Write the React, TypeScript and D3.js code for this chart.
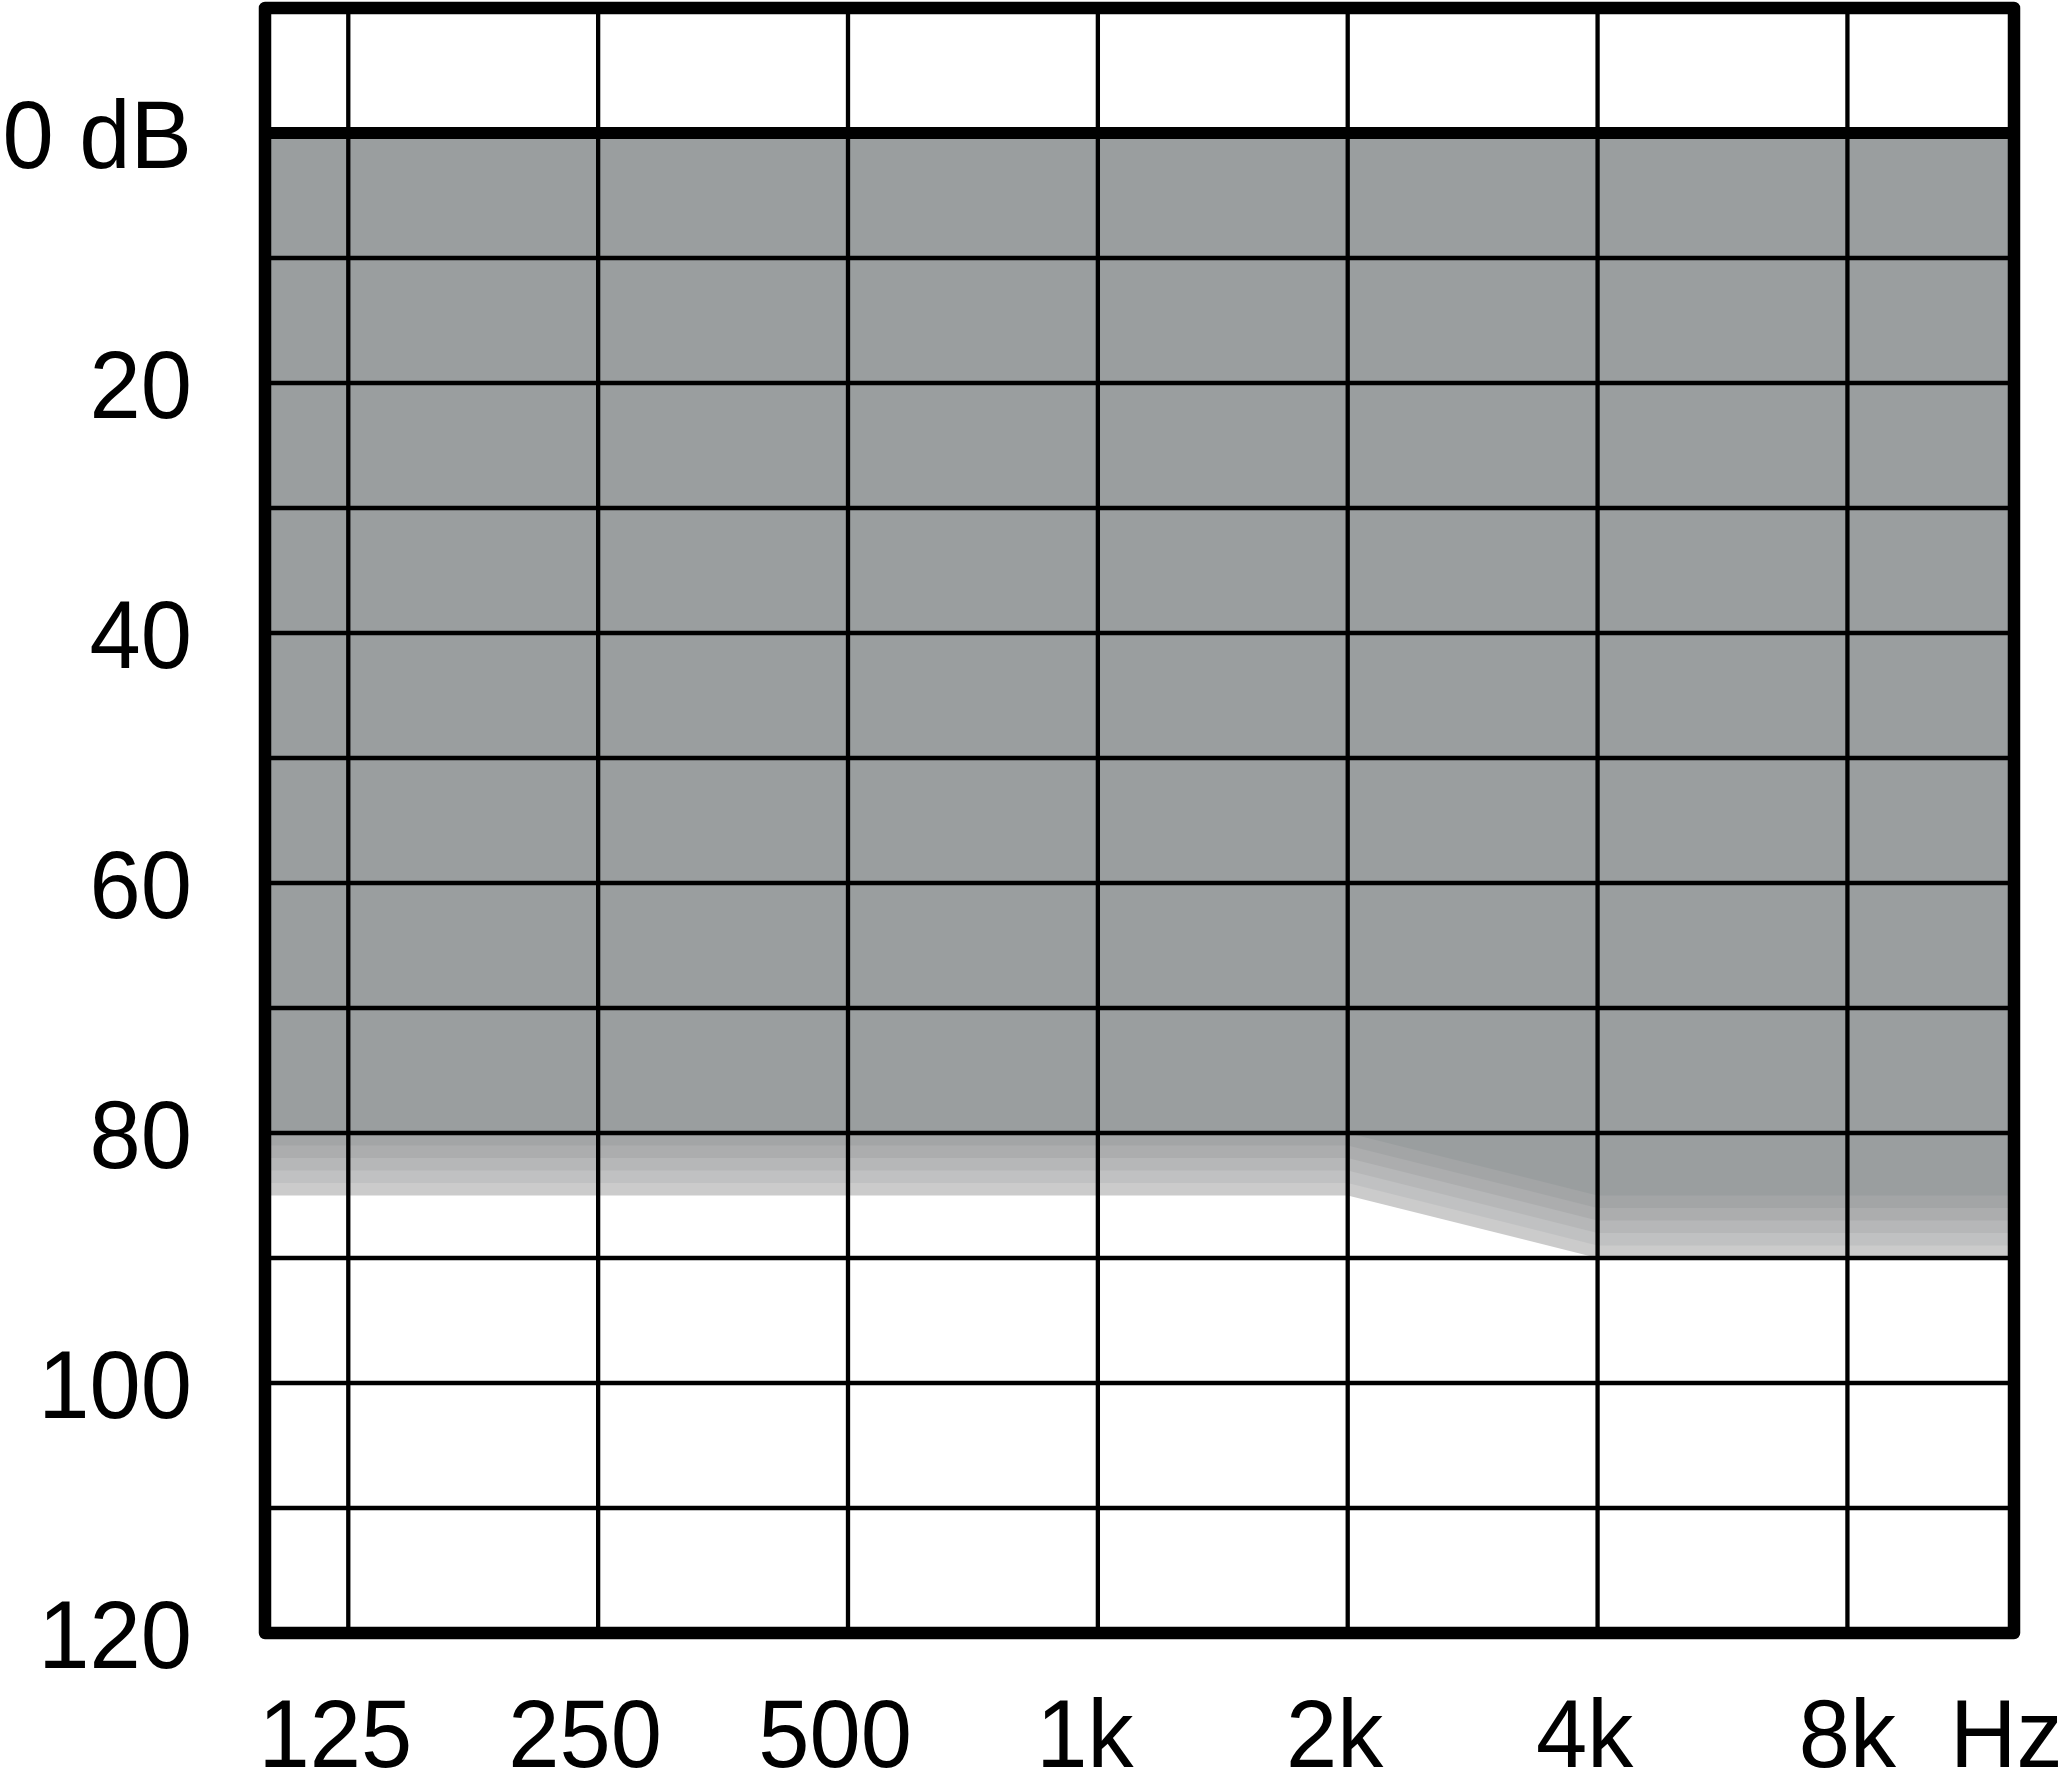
import React from "react";
import * as d3 from "d3";

const frequencies = [125, 250, 500, 1000, 2000, 4000, 8000];
const freqLabels = ["125", "250", "500", "1k", "2k", "4k", "8k"];
const thresholdDb = [80, 80, 80, 80, 80, 85, 85];
const dbTicks = [0, 20, 40, 60, 80, 100, 120];
const dbLabels = ["0 dB", "20", "40", "60", "80", "100", "120"];
const gridDb = [10, 20, 30, 40, 50, 60, 70, 80, 90, 100, 110];
const fadeColors = ["#a3a5a6", "#acadae", "#b6b7b8", "#c0c1c2", "#cbcbcb"];
const solidColor = "#9a9e9f";

const W = 2063;
const H = 1770;
const FONT = "'Liberation Sans', Arial, sans-serif";
const FS = 97;
const SX = 0.95;

export default function App() {
  const fMin = 125 / Math.pow(2, 1 / 3);
  const fMax = 8000 * Math.pow(2, 2 / 3);
  const x = d3.scaleLog().domain([fMin, fMax]).range([265, 2014]);
  const y = d3.scaleLinear().domain([-10, 120]).range([8, 1633]);

  const pts = [
    { f: fMin, t: thresholdDb[0] },
    ...frequencies.map((f, i) => ({ f, t: thresholdDb[i] })),
    { f: fMax, t: thresholdDb[thresholdDb.length - 1] },
  ];

  const areaFor = (extra: number) =>
    d3
      .area<{ f: number; t: number }>()
      .x((d) => x(d.f))
      .y0(y(0))
      .y1((d) => y(d.t + extra))(pts) as string;

  const bands = fadeColors
    .map((c, i) => ({ c, extra: i + 1 }))
    .reverse();

  const [x0, x1] = x.range();
  const [yTop, yBot] = [y(-10), y(120)];
  const last = frequencies.length - 1;

  return (
    <svg
      width={W}
      height={H}
      style={{ position: "absolute", left: 0, top: 0, background: "#fff" }}
    >
      <rect x={0} y={0} width={W} height={H} fill="#fff" />
      {bands.map((b) => (
        <path key={b.extra} d={areaFor(b.extra)} fill={b.c} />
      ))}
      <path d={areaFor(0)} fill={solidColor} />

      {gridDb.map((db) => (
        <line
          key={db}
          x1={x0}
          x2={x1}
          y1={y(db)}
          y2={y(db)}
          stroke="#000"
          strokeWidth={4.3}
        />
      ))}
      {frequencies.map((f) => (
        <line
          key={f}
          x1={x(f)}
          x2={x(f)}
          y1={yTop}
          y2={yBot}
          stroke="#000"
          strokeWidth={4.3}
        />
      ))}
      <line
        x1={x0}
        x2={x1}
        y1={y(0)}
        y2={y(0)}
        stroke="#000"
        strokeWidth={12}
      />
      <rect
        x={x0}
        y={yTop}
        width={x1 - x0}
        height={yBot - yTop}
        fill="none"
        stroke="#000"
        strokeWidth={12.5}
        strokeLinejoin="round"
      />

      {dbTicks.map((db, i) => (
        <text
          key={db}
          transform={`translate(192,${y(db) + 35}) scale(${SX},1)`}
          textAnchor="end"
          fontFamily={FONT}
          fontSize={FS}
          fill="#000"
        >
          {dbLabels[i]}
        </text>
      ))}
      {frequencies.map((f, i) => (
        <text
          key={f}
          transform={`translate(${x(f) - (i === last ? 0 : 13)},1767) scale(${SX},1)`}
          textAnchor="middle"
          fontFamily={FONT}
          fontSize={FS}
          fill="#000"
        >
          {freqLabels[i]}
        </text>
      ))}
      <text
        transform={`translate(1950,1767) scale(${SX},1)`}
        textAnchor="start"
        fontFamily={FONT}
        fontSize={FS}
        fill="#000"
      >
        Hz
      </text>
    </svg>
  );
}
